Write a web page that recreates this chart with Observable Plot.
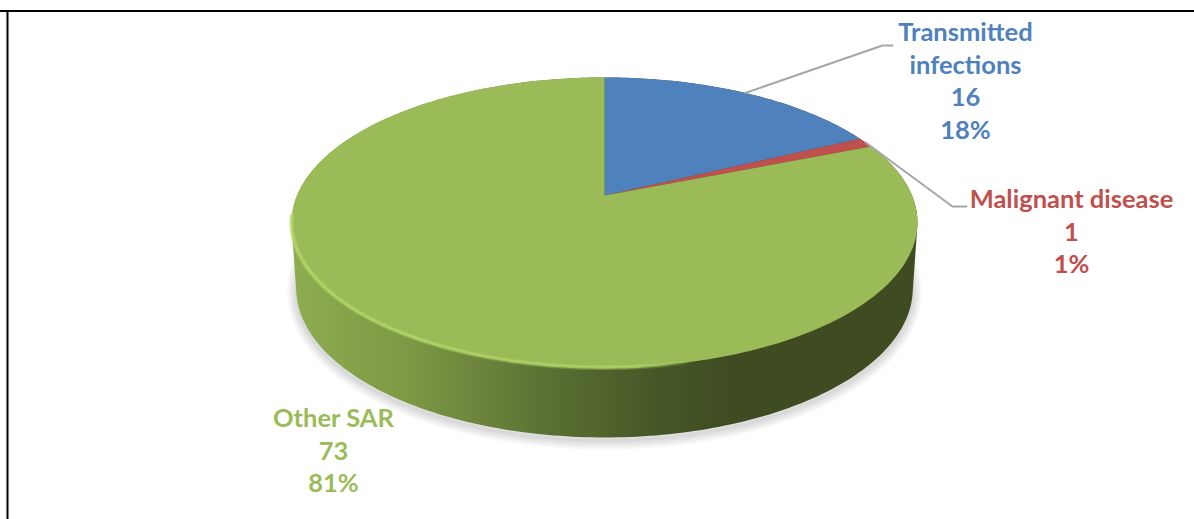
<!DOCTYPE html>
<html>
<head>
<meta charset="utf-8">
<script src="https://cdn.jsdelivr.net/npm/d3@7"></script>
<script src="https://cdn.jsdelivr.net/npm/@observablehq/plot@0.6"></script>
<style>
html,body{margin:0;padding:0;background:#fff;overflow:hidden}
svg{display:block}
</style>
</head>
<body>
<div id="chart"></div>
<script>
const categories = ["Transmitted infections", "Malignant disease", "Other SAR"];
const values = [16, 1, 73];
const labelNames = ["Transmitted\ninfections", "Malignant disease", "Other SAR"];
const colors = ["#4f81bd", "#c0504d", "#9bbb59"];
const labelX = [965, 1071, 333];
const labelY = [79, 230, 449];
const elbowX = [882, 952];
const elbowEndX = [892, 966];
const elbowY = [45, 206];
const shadowWidths = [18, 14, 10, 6, 3];

const total = d3.sum(values);
const W = 1194, H = 519;
const CX = 604, APEX = 195, A = 307.5, B = 140, K = 0.186;

function rim(deg) {
  const t = deg * Math.PI / 180, u = Math.sin(t), v = Math.cos(t), w = 1 + K * v;
  return {x: CX + A * u / w, y: APEX - B * v / w};
}
function lower(p) {
  return {x: CX + (p.x - CX) * 0.985, y: 288 + (p.y - 222) * 149 / 145};
}
const degs = d3.range(0, 361);
const topRim = degs.map(rim);
const hull = d3.polygonHull([...topRim, ...topRim.map(lower)].map(p => [p.x, p.y]))
  .map(([x, y]) => ({x, y}));
const shadow = topRim.map(lower).map(p => ({x: p.x, y: p.y + 3}));

let acc = 0;
const slicePts = [], labels = [], leaders = [];
values.forEach((v, i) => {
  const a0 = acc / total * 360, a1 = (acc + v) / total * 360;
  acc += v;
  slicePts.push({name: categories[i], x: CX, y: APEX});
  const steps = Math.max(2, Math.ceil(a1 - a0));
  for (let s = 0; s <= steps; s++) {
    slicePts.push({name: categories[i], ...rim(a0 + (a1 - a0) * s / steps)});
  }
  labels.push({
    name: categories[i],
    x: labelX[i], y: labelY[i],
    text: `${labelNames[i]}\n${v}\n${Math.round(v / total * 100)}%`
  });
  if (i < elbowX.length) {
    leaders.push({i, ...rim((a0 + a1) / 2)});
    leaders.push({i, x: elbowX[i], y: elbowY[i]});
    leaders.push({i, x: elbowEndX[i], y: elbowY[i]});
  }
});
const highlight = d3.range(262, 165, -1).map(rim);

function defs() {
  const d = d3.create("svg:defs");
  const g = d.append("linearGradient").attr("id", "wallGrad");
  [[0, "#8fad4f"], [0.2, "#7b9743"], [0.33, "#687f3a"], [0.45, "#556a2f"], [0.6, "#445526"], [0.7, "#3f4c22"], [1, "#3f4c22"]]
    .forEach(([o, c]) => g.append("stop").attr("offset", o).attr("stop-color", c));
  const h = d.append("linearGradient").attr("id", "rimGrad");
  [[0, "#b4d768", 1], [0.85, "#b4d768", 0.9], [1, "#b4d768", 0]]
    .forEach(([o, c, a]) => h.append("stop").attr("offset", o).attr("stop-color", c).attr("stop-opacity", a));
  return d.node();
}

const chart = Plot.plot({
  width: W, height: H,
  marginTop: 0, marginRight: 0, marginBottom: 0, marginLeft: 0,
  x: {domain: [0, W], range: [0, W], axis: null},
  y: {domain: [0, H], range: [0, H], axis: null},
  color: {domain: categories, range: colors},
  style: {background: "#fff"},
  marks: [
    defs,
    ...shadowWidths.map(w => Plot.line(shadow, {x: "x", y: "y", stroke: "#777", strokeOpacity: 0.06, strokeWidth: w})),
    Plot.line(hull, {x: "x", y: "y", fill: "url(#wallGrad)", stroke: "none"}),
    Plot.line(slicePts, {x: "x", y: "y", z: "name", fill: "name", stroke: "none"}),
    Plot.line(highlight, {x: "x", y: "y", stroke: "url(#rimGrad)", strokeOpacity: 0.35, strokeWidth: 5}),
    Plot.line(highlight, {x: "x", y: "y", stroke: "url(#rimGrad)", strokeOpacity: 0.8, strokeWidth: 2.5}),
    Plot.line(leaders, {x: "x", y: "y", z: "i", stroke: "#a6a6a6", strokeWidth: 2}),
    Plot.text(labels, {
      x: "x", y: "y", text: "text", fill: "name",
      fontFamily: "Lato", fontWeight: 700, fontSize: 25.5, lineHeight: 1.275, lineAnchor: "middle", textAnchor: "middle"
    }),
    Plot.ruleY([10.5], {stroke: "#000", strokeWidth: 2}),
    Plot.ruleX([7], {y1: 10, y2: H, stroke: "#000", strokeWidth: 2})
  ]
});
document.getElementById("chart").append(chart);
</script>
</body>
</html>
